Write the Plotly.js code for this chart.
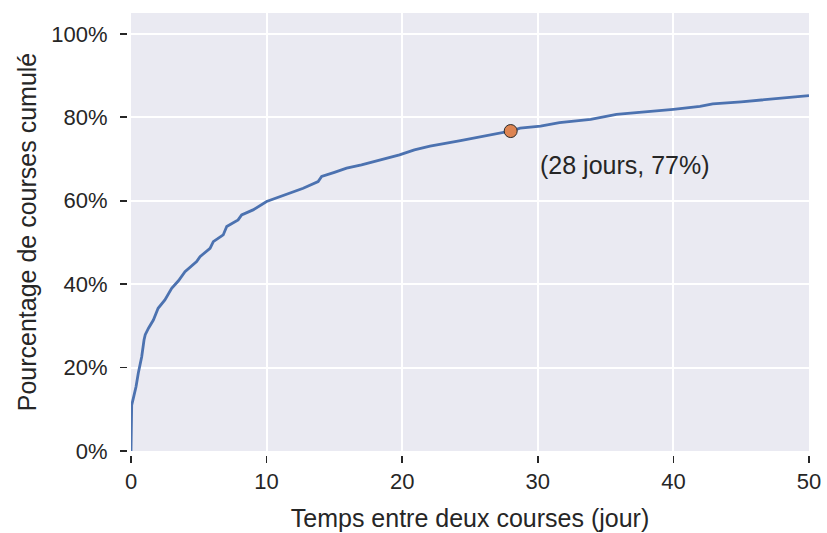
<!DOCTYPE html>
<html>
<head>
<meta charset="utf-8">
<script src="https://cdn.plot.ly/plotly-3.0.1.min.js"></script>
<style>html,body{margin:0;padding:0;background:#fff;}#chart{width:827px;height:533px;}</style>
</head>
<body>
<div id="chart"></div>
<script>
// Time between two rides (days)
const days = [0, 0.05, 0.17, 0.37, 0.54, 0.79, 0.96, 1.05, 1.3, 1.65, 2.0, 2.5, 3.0, 3.5, 3.98, 4.84, 5.09, 5.83, 6.07, 6.8, 7.06, 7.9, 8.16, 9.0, 10.0, 11.0, 12.0, 12.7, 13.8, 14.06, 15.0, 15.9, 17.0, 17.9, 19.0, 19.8, 20.9, 22.05, 24.3, 26.7, 28.0, 28.7, 30.2, 31.6, 33.9, 35.8, 38.0, 40.0, 41.96, 42.9, 45.0, 47.0, 49.8, 50];
// Cumulative share of rides
const cumulPct = [0, 0.110, 0.126, 0.154, 0.187, 0.226, 0.266, 0.279, 0.295, 0.314, 0.342, 0.362, 0.390, 0.408, 0.430, 0.454, 0.466, 0.486, 0.502, 0.518, 0.538, 0.554, 0.566, 0.578, 0.598, 0.610, 0.622, 0.630, 0.646, 0.658, 0.668, 0.678, 0.686, 0.694, 0.703, 0.710, 0.722, 0.731, 0.744, 0.758, 0.767, 0.774, 0.779, 0.787, 0.795, 0.807, 0.813, 0.819, 0.826, 0.832, 0.837, 0.843, 0.851, 0.852];
// Highlighted point
const highlightX = [28];
const highlightY = [0.767];
const highlightLabel = "(28 jours, 77%)";
const xTicks = [0, 10, 20, 30, 40, 50];
const yTicks = [0, 0.2, 0.4, 0.6, 0.8, 1.0];

const textColor = '#262626';
const fontFam = 'Liberation Sans, Arial, Helvetica, sans-serif';

const traces = [
  {x: days, y: cumulPct, type: 'scatter', mode: 'lines',
   line: {color: '#4C72B0', width: 2.8}, hoverinfo: 'skip'},
  {x: highlightX, y: highlightY, type: 'scatter', mode: 'markers',
   marker: {color: '#DD8452', size: 13, line: {color: '#2a2a2a', width: 1}}, hoverinfo: 'skip'}
];

const layout = {
  width: 827, height: 533,
  margin: {l: 127, r: 18, t: 13, b: 78},
  paper_bgcolor: '#ffffff',
  plot_bgcolor: '#EAEAF2',
  showlegend: false,
  font: {family: fontFam, color: textColor, size: 22},
  xaxis: {
    domain: [4/682, 1], anchor: 'free', position: 0,
    range: [0, 50], tickvals: xTicks, ticktext: xTicks.map(String),
    ticks: 'outside', ticklen: 7, tickwidth: 1.6, tickcolor: textColor,
    showgrid: true, gridcolor: '#ffffff', gridwidth: 2,
    zeroline: false, showline: false,
    tickfont: {size: 22, color: textColor, family: fontFam},
    title: {text: 'Temps entre deux courses (jour)', font: {size: 25, color: textColor, family: fontFam}, standoff: 16}
  },
  yaxis: {
    domain: [4/442, 1], anchor: 'free', position: 0,
    range: [0, 1.05], tickvals: yTicks, ticktext: yTicks.map(v => Math.round(v*100) + '%'),
    ticks: 'outside', ticklen: 7, tickwidth: 1.6, tickcolor: textColor,
    ticklabelstandoff: 8,
    showgrid: true, gridcolor: '#ffffff', gridwidth: 2,
    zeroline: false, showline: false,
    tickfont: {size: 22, color: textColor, family: fontFam},
    title: {text: 'Pourcentage de courses cumulé', font: {size: 25, color: textColor, family: fontFam}, standoff: 6}
  },
  annotations: [{
    x: 30, y: 0.686, xref: 'x', yref: 'y', text: highlightLabel,
    showarrow: false, xanchor: 'left', yanchor: 'middle',
    font: {size: 25, color: textColor, family: fontFam}
  }]
};

Plotly.newPlot('chart', traces, layout, {displayModeBar: false, staticPlot: true});
</script>
</body>
</html>
